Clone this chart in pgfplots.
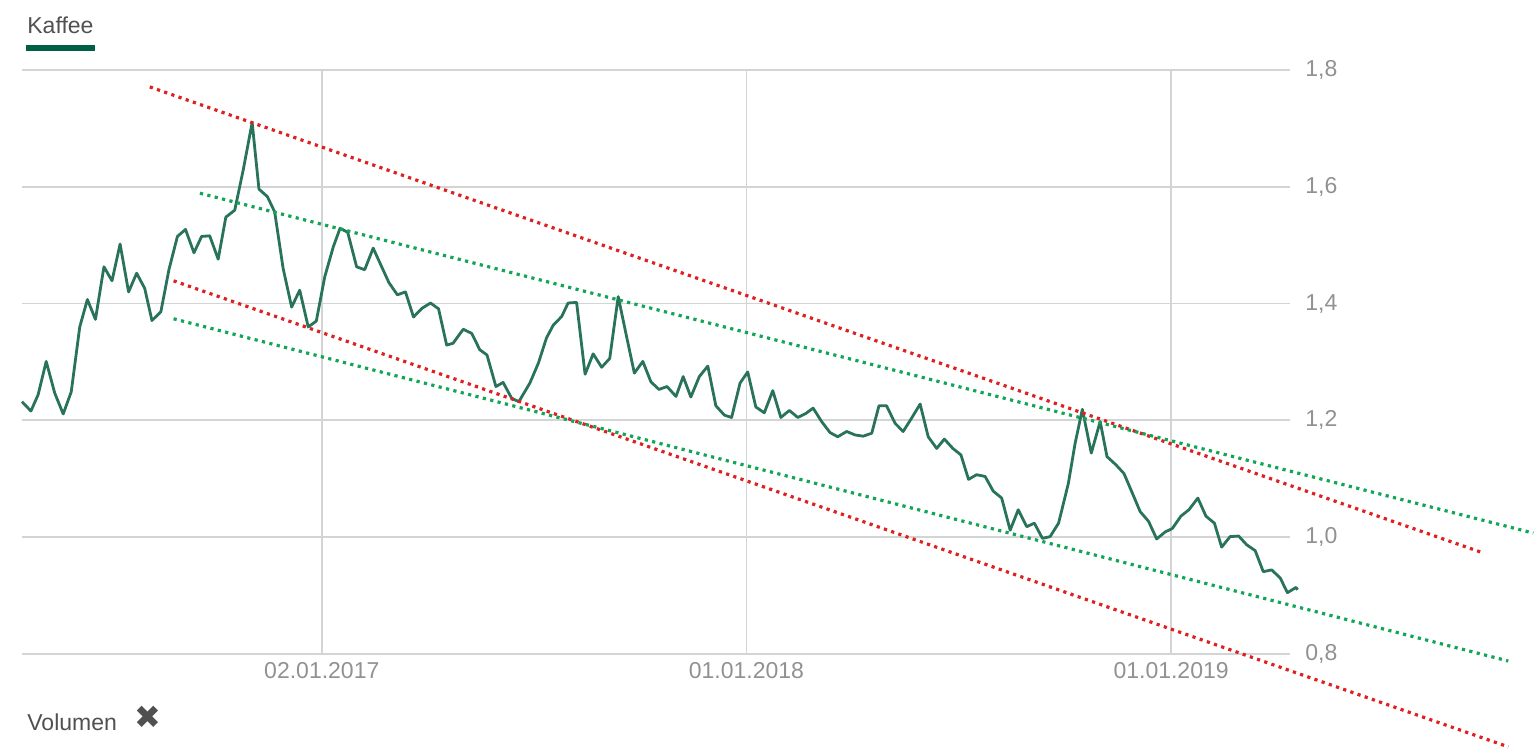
\documentclass[border=0pt]{standalone}
\usepackage{pgfplots}
\pgfplotsset{compat=1.18}
\usepackage{pgfplotstable}
\usepackage{fontspec}
\setmainfont{Liberation Sans}
\newfontfamily\symfont{DejaVu Sans}

\definecolor{kaffeeline}{RGB}{40,115,90}
\definecolor{kaffeebar}{RGB}{0,96,70}
\definecolor{trendred}{RGB}{222,32,32}
\definecolor{trendgreen}{RGB}{18,165,88}
\definecolor{gridgray}{RGB}{212,212,212}
\definecolor{ticktext}{RGB}{145,145,145}
\definecolor{headtext}{RGB}{80,80,80}

% weekly closing price, x in decimal years
\pgfplotstableread{
x y
2016.294 1.232
2016.315 1.216
2016.332 1.244
2016.351 1.301
2016.371 1.247
2016.391 1.211
2016.410 1.249
2016.430 1.360
2016.448 1.407
2016.467 1.373
2016.487 1.463
2016.506 1.439
2016.525 1.502
2016.545 1.420
2016.564 1.452
2016.583 1.426
2016.600 1.371
2016.621 1.386
2016.640 1.458
2016.660 1.515
2016.679 1.527
2016.699 1.487
2016.717 1.515
2016.736 1.516
2016.756 1.476
2016.774 1.548
2016.795 1.560
2016.815 1.629
2016.836 1.710
2016.852 1.596
2016.872 1.583
2016.889 1.557
2016.909 1.460
2016.929 1.394
2016.948 1.423
2016.968 1.360
2016.987 1.370
2017.007 1.446
2017.027 1.497
2017.043 1.529
2017.061 1.522
2017.082 1.463
2017.101 1.458
2017.121 1.495
2017.141 1.463
2017.158 1.436
2017.178 1.415
2017.197 1.420
2017.216 1.377
2017.236 1.392
2017.256 1.401
2017.275 1.391
2017.294 1.329
2017.309 1.332
2017.333 1.356
2017.353 1.349
2017.372 1.321
2017.389 1.312
2017.410 1.258
2017.427 1.265
2017.447 1.238
2017.464 1.232
2017.490 1.264
2017.510 1.298
2017.529 1.341
2017.545 1.363
2017.565 1.378
2017.580 1.401
2017.600 1.402
2017.620 1.279
2017.639 1.314
2017.659 1.291
2017.678 1.306
2017.698 1.412
2017.717 1.346
2017.736 1.281
2017.756 1.301
2017.775 1.266
2017.794 1.253
2017.813 1.258
2017.834 1.241
2017.851 1.275
2017.869 1.240
2017.889 1.275
2017.909 1.293
2017.928 1.225
2017.948 1.209
2017.965 1.205
2017.985 1.264
2018.003 1.283
2018.022 1.223
2018.042 1.213
2018.062 1.251
2018.081 1.205
2018.101 1.217
2018.121 1.205
2018.140 1.212
2018.157 1.221
2018.177 1.198
2018.197 1.179
2018.215 1.172
2018.236 1.181
2018.256 1.175
2018.275 1.173
2018.295 1.178
2018.312 1.225
2018.330 1.225
2018.350 1.195
2018.369 1.181
2018.389 1.204
2018.409 1.228
2018.428 1.172
2018.448 1.152
2018.466 1.168
2018.486 1.152
2018.505 1.141
2018.523 1.099
2018.542 1.107
2018.562 1.104
2018.581 1.079
2018.601 1.067
2018.621 1.012
2018.640 1.047
2018.660 1.018
2018.678 1.024
2018.697 0.998
2018.715 1.001
2018.735 1.024
2018.758 1.092
2018.774 1.161
2018.791 1.219
2018.812 1.144
2018.833 1.198
2018.849 1.138
2018.870 1.124
2018.889 1.109
2018.909 1.075
2018.927 1.044
2018.947 1.027
2018.966 0.997
2018.986 1.009
2019.003 1.015
2019.023 1.036
2019.042 1.047
2019.063 1.067
2019.082 1.036
2019.102 1.024
2019.119 0.983
2019.139 1.001
2019.159 1.002
2019.178 0.987
2019.198 0.977
2019.217 0.941
2019.237 0.944
2019.257 0.930
2019.274 0.905
2019.294 0.914
2019.298 0.910
}\kaffee

\begin{document}
\begin{tikzpicture}
\useasboundingbox (-11pt,-47.5pt) rectangle (757pt,327pt);
\begin{axis}[
  at={(0,0)}, anchor=south west,
  scale only axis,
  width=634pt, height=292pt,
  xmin=2016.294, xmax=2019.280,
  ymin=0.8, ymax=1.8,
  clip=false,
  axis line style={draw=none},
  major tick length=0pt,
  xtick={2017,2018,2019},
  xticklabels={02.01.2017,01.01.2018,01.01.2019},
  ytick={0.8,1.0,1.2,1.4,1.6,1.8},
  yticklabel pos=right,
  grid=major,
  major grid style={draw=gridgray, line width=0.9pt},
  /pgf/number format/.cd, use comma, fixed, fixed zerofill, precision=1, assume math mode=true,
  /pgfplots/.cd,
  tick label style={font=\fontsize{11.5}{14}\selectfont, text=ticktext},
  xticklabel style={anchor=north, inner sep=0pt, yshift=-4pt},
  yticklabel style={anchor=west, inner sep=0pt, xshift=7.5pt},
]
\addplot[kaffeeline, line width=1.4pt, line join=round] table[x=x, y=y] {\kaffee};
\addplot[trendred, line width=1.6pt, dash pattern=on 1.6pt off 2.2pt] coordinates {(2016.595,1.771) (2019.735,0.973)};
\addplot[trendred, line width=1.6pt, dash pattern=on 1.6pt off 2.2pt] coordinates {(2016.651,1.439) (2019.794,0.641)};
\addplot[trendgreen, line width=1.6pt, dash pattern=on 1.6pt off 2.2pt] coordinates {(2016.713,1.589) (2019.853,1.007)};
\addplot[trendgreen, line width=1.6pt, dash pattern=on 1.6pt off 2.2pt] coordinates {(2016.651,1.374) (2019.794,0.788)};
\end{axis}
\node[anchor=base west, inner sep=0pt, text=headtext, font=\fontsize{11.5}{13}\selectfont] at (2.5pt,310pt) {Kaffee};
\fill[kaffeebar] (2pt,301.5pt) rectangle (36.5pt,304.5pt);
\node[anchor=base west, inner sep=0pt, text=headtext, font=\fontsize{11.5}{13}\selectfont] at (2.5pt,-38.5pt) {Volumen};
\node[inner sep=0pt, text=headtext, font=\symfont\fontsize{16}{18}\selectfont] at (62.75pt,-31.5pt) {✖};
\end{tikzpicture}
\end{document}
